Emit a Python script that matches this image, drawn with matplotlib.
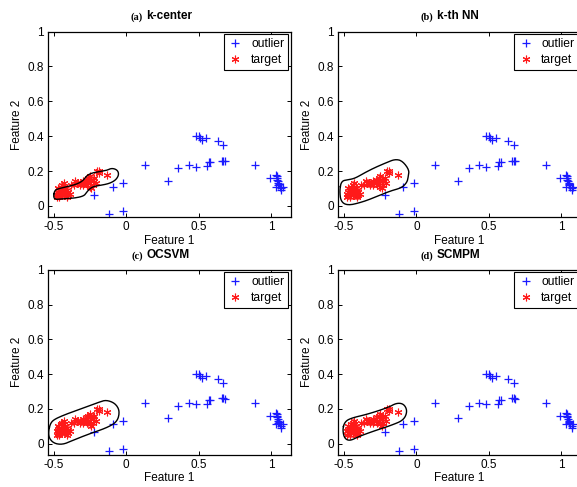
import matplotlib
matplotlib.use("Agg")
import matplotlib.pyplot as plt

# -------------------------------------------------
# datos
outlier_x = [-0.12, -0.02, -0.02, -0.09, -0.22, 0.13, 0.29, 0.36, 0.43, 0.48,
             0.48, 0.50, 0.51, 0.52, 0.55, 0.63, 0.67, 0.56, 0.57, 0.58,
             0.66, 0.67, 0.68, 0.89, 0.99, 1.03, 1.04, 1.04, 1.045, 1.05,
             1.05, 1.03, 1.06, 1.07, 1.08, 1.07, 1.04, 1.055]
outlier_y = [-0.045, -0.03, 0.13, 0.11, 0.065, 0.235, 0.145, 0.215, 0.235, 0.225,
             0.40, 0.40, 0.39, 0.38, 0.39, 0.37, 0.35, 0.23, 0.25, 0.25,
             0.26, 0.26, 0.255, 0.235, 0.16, 0.175, 0.16, 0.15, 0.14, 0.13,
             0.12, 0.11, 0.11, 0.10, 0.11, 0.09, 0.17, 0.125]

target_x = [-0.48, -0.47, -0.47, -0.46, -0.46, -0.45, -0.45, -0.44, -0.44, -0.44,
            -0.43, -0.43, -0.43, -0.42, -0.42, -0.42, -0.41, -0.41, -0.40, -0.40,
            -0.39, -0.45, -0.46, -0.48, -0.47, -0.43, -0.41, -0.44,
            -0.38, -0.36, -0.34, -0.33, -0.31, -0.30, -0.29, -0.28, -0.27, -0.27,
            -0.26, -0.26, -0.25, -0.25, -0.24, -0.24, -0.23, -0.23, -0.22, -0.21,
            -0.20, -0.19, -0.19, -0.13, -0.32, -0.35, -0.30]
target_y = [0.05, 0.06, 0.08, 0.05, 0.07, 0.09, 0.06, 0.08, 0.10, 0.12,
            0.07, 0.09, 0.11, 0.06, 0.08, 0.10, 0.07, 0.09, 0.06, 0.08,
            0.07, 0.11, 0.09, 0.07, 0.10, 0.13, 0.05, 0.06,
            0.12, 0.12, 0.13, 0.13, 0.13, 0.14, 0.13, 0.14, 0.15, 0.12,
            0.16, 0.13, 0.17, 0.11, 0.14, 0.10, 0.15, 0.12, 0.16, 0.13,
            0.20, 0.19, 0.20, 0.18, 0.12, 0.14, 0.12]

# fronteras de decision (vertices del contorno)
kcenter_x = [-0.502, -0.494, -0.470, -0.410, -0.350, -0.300, -0.275, -0.240, -0.190,
             -0.136, -0.100, -0.062, -0.050, -0.066, -0.100, -0.147, -0.216, -0.250,
             -0.275, -0.290, -0.343, -0.436, -0.490]
kcenter_y = [0.054, 0.088, 0.098, 0.110, 0.122, 0.142, 0.172, 0.188, 0.196,
             0.203, 0.217, 0.207, 0.182, 0.154, 0.134, 0.122, 0.114, 0.100,
             0.076, 0.058, 0.046, 0.040, 0.036]

kthnn_x = [-0.530, -0.518, -0.470, -0.424, -0.355, -0.286, -0.205, -0.147, -0.098,
           -0.050, -0.056, -0.064, -0.101, -0.170, -0.239, -0.308, -0.378, -0.470,
           -0.520]
kthnn_y = [0.085, 0.143, 0.150, 0.158, 0.191, 0.220, 0.249, 0.268, 0.259,
           0.207, 0.170, 0.136, 0.104, 0.088, 0.066, 0.042, 0.021, 0.002,
           0.022]

ocsvm_x = [-0.536, -0.522, -0.493, -0.412, -0.297, -0.182, -0.136, -0.074, -0.044,
           -0.062, -0.136, -0.251, -0.367, -0.436, -0.497, -0.532]
ocsvm_y = [0.071, 0.118, 0.141, 0.170, 0.204, 0.240, 0.251, 0.231, 0.186,
           0.125, 0.090, 0.057, 0.019, -0.006, 0.000, 0.031]

scmpm_x = [-0.509, -0.496, -0.458, -0.332, -0.194, -0.136, -0.086, -0.062, -0.088,
           -0.170, -0.308, -0.401, -0.460, -0.497]
scmpm_y = [0.080, 0.122, 0.145, 0.170, 0.208, 0.234, 0.228, 0.186, 0.135,
           0.106, 0.068, 0.039, 0.015, 0.030]

letras = ["(a)", "(b)", "(c)", "(d)"]
metodos = ["k-center", "k-th NN", "OCSVM", "SCMPM"]
fronteras = [(kcenter_x, kcenter_y), (kthnn_x, kthnn_y),
             (ocsvm_x, ocsvm_y), (scmpm_x, scmpm_y)]

# posiciones de los ejes en la figura
posiciones = [[0.083, 0.554, 0.421, 0.381],
              [0.586, 0.554, 0.421, 0.381],
              [0.083, 0.066, 0.421, 0.380],
              [0.586, 0.066, 0.421, 0.380]]


# -------------------------------------------------
def suavizar(xs, ys, veces=3):
    # recorte de esquinas (Chaikin) para que el contorno cerrado quede redondo
    pts = list(zip(xs, ys))
    for _ in range(veces):
        nuevos = []
        n = len(pts)
        for i in range(n):
            x0, y0 = pts[i]
            x1, y1 = pts[(i + 1) % n]
            nuevos.append((0.75 * x0 + 0.25 * x1, 0.75 * y0 + 0.25 * y1))
            nuevos.append((0.25 * x0 + 0.75 * x1, 0.25 * y0 + 0.75 * y1))
        pts = nuevos
    pts.append(pts[0])
    return [p[0] for p in pts], [p[1] for p in pts]


def panel(fig, pos, letra, metodo, frontera):
    ax = fig.add_axes(pos)
    ax.plot(outlier_x, outlier_y, linestyle="none", marker="+", color="#1a1aff",
            markersize=5.5, markeredgewidth=0.9, label="outlier")
    ax.plot(target_x, target_y, linestyle="none", marker=(6, 2, 0), color="#ff1a1a",
            markersize=5.5, markeredgewidth=0.8, label="target")
    fx, fy = suavizar(frontera[0], frontera[1])
    ax.plot(fx, fy, color="black", linewidth=1.0)

    ax.set_xlim(-0.54, 1.135)
    ax.set_ylim(-0.065, 1.0)
    ax.set_xticks([-0.5, 0, 0.5, 1])
    ax.set_xticklabels(["-0.5", "0", "0.5", "1"])
    ax.set_yticks([0, 0.2, 0.4, 0.6, 0.8, 1])
    ax.set_yticklabels(["0", "0.2", "0.4", "0.6", "0.8", "1"])
    ax.tick_params(direction="in", length=3, width=0.7, labelsize=8.5,
                   top=True, right=True, pad=3)
    for s in ax.spines.values():
        s.set_linewidth(0.9)
    ax.set_xlabel("Feature 1", fontsize=8.5, labelpad=1)
    ax.set_ylabel("Feature 2", fontsize=8.5, labelpad=3)

    ley = ax.legend(loc="upper right", fontsize=8.7, frameon=True, fancybox=False,
                    edgecolor="black", framealpha=1, handlelength=1.2,
                    handletextpad=0.7, borderaxespad=0.2, borderpad=0.35,
                    labelspacing=0.3)
    ley.get_frame().set_linewidth(0.8)

    # titulo: letra en serif y nombre en sans, ambos en negrita
    ax.text(0.39, 1.05, letra, transform=ax.transAxes, ha="right", va="bottom",
            fontsize=7.5, fontweight="bold", family="Liberation Serif")
    ax.text(0.405, 1.05, metodo, transform=ax.transAxes, ha="left", va="bottom",
            fontsize=8.5, fontweight="bold")
    return ax


# -------------------------------------------------
def main():
    plt.rcParams["font.family"] = ["Liberation Sans", "DejaVu Sans"]
    fig = plt.figure(figsize=(5.77, 4.87), dpi=100)
    for i in range(4):
        panel(fig, posiciones[i], letras[i], metodos[i], fronteras[i])
    fig.savefig("out.png", dpi=100)

# -------------------------------------------------
main()
